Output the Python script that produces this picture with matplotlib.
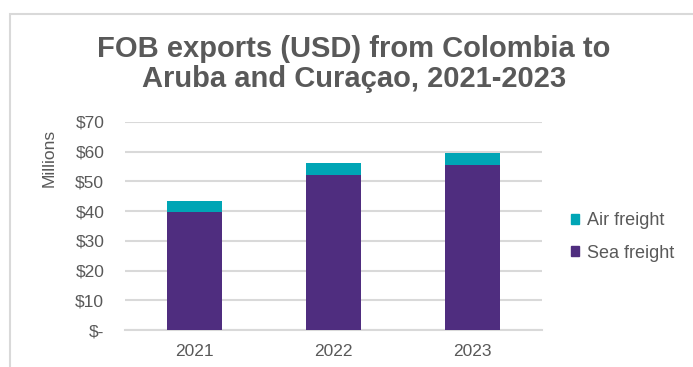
import matplotlib.pyplot as plt
from matplotlib.patches import Rectangle, Patch

# Exportaciones FOB (millones USD) por modo de transporte
years = ["2021", "2022", "2023"]
sea_freight = [39.7, 52.1, 55.5]
air_freight = [3.7, 4.1, 4.2]

sea_color = "#4f2d7f"
air_color = "#00a5b5"
text_color = "#595959"
grid_color = "#d9d9d9"

plt.rcParams["font.family"] = ["Liberation Sans", "DejaVu Sans"]

fig = plt.figure(figsize=(6.93, 3.67), dpi=100)
ax = fig.add_axes([0.1804, 0.1008, 0.6017, 0.5668])

x = range(len(years))
ax.bar(x, sea_freight, width=0.4, color=sea_color, label="Sea freight", zorder=3)
ax.bar(x, air_freight, width=0.4, bottom=sea_freight, color=air_color,
       label="Air freight", zorder=3)

ax.set_xlim(-0.5, 2.5)
ax.set_ylim(0, 70)
ax.set_yticks(range(0, 71, 10))
ax.set_yticklabels(["$-"] + [f"${v}" for v in range(10, 71, 10)])
ax.set_xticks(list(x))
ax.set_xticklabels(years)

ax.grid(axis="y", color=grid_color, linewidth=1.5, zorder=0)
for side in ["top", "right", "left"]:
    ax.spines[side].set_visible(False)
ax.spines["bottom"].set_color(grid_color)
ax.spines["bottom"].set_linewidth(1.5)
ax.tick_params(axis="both", length=0, colors=text_color, labelsize=12.5)
ax.tick_params(axis="y", pad=15)
ax.tick_params(axis="x", pad=10)

ax.set_ylabel("Millions", color=text_color, fontsize=12.5)
ax.yaxis.set_label_coords(-0.163, 0.827)

fig.text(0.511, 0.826, "FOB exports (USD) from Colombia to\nAruba and Curaçao, 2021-2023",
         ha="center", va="center", fontsize=21, fontweight="bold",
         color=text_color, linespacing=1.1)

handles = [Patch(color=air_color, label="Air freight"),
           Patch(color=sea_color, label="Sea freight")]
fig.legend(handles=handles, loc="center left", bbox_to_anchor=(0.80, 0.354),
           frameon=False, fontsize=13, labelcolor=text_color,
           handlelength=0.45, handleheight=0.45, handletextpad=0.45,
           labelspacing=0.85)

# Marco gris alrededor del gráfico
fig.patches.append(Rectangle((10 / 693, -0.1), 1.2, 1.1 - 14 / 367,
                             transform=fig.transFigure, fill=False,
                             edgecolor=grid_color, linewidth=1.5))

fig.savefig("out.png", dpi=100)
